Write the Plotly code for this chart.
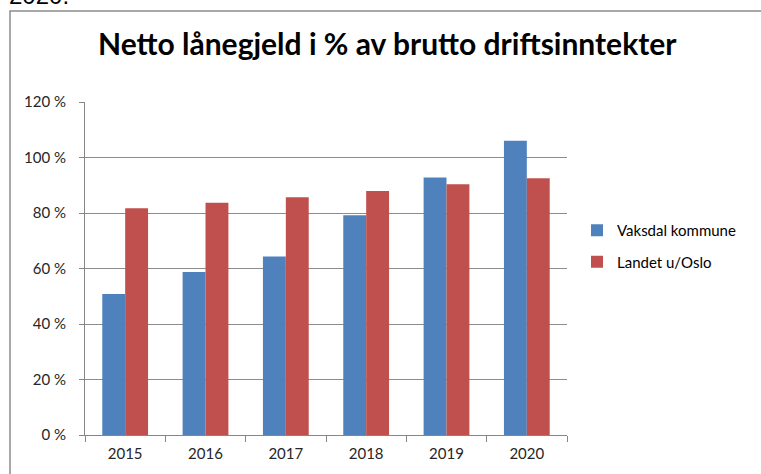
import plotly.graph_objects as go

years = ["2015", "2016", "2017", "2018", "2019", "2020"]
vaksdal = [50.8, 58.7, 64.3, 79.2, 92.8, 106.0]
landet = [81.7, 83.7, 85.7, 87.9, 90.4, 92.5]
y_ticks = [0, 20, 40, 60, 80, 100, 120]
y_tick_labels = [f"{v} %" for v in y_ticks]

FONT = "Lato, 'Open Sans', sans-serif"

fig = go.Figure()
fig.add_trace(go.Bar(x=years, y=vaksdal, name="Vaksdal kommune",
                     marker=dict(color="#4f81bd", line=dict(width=0)), legendgroup="a"))
fig.add_trace(go.Bar(x=years, y=landet, name="Landet u/Oslo",
                     marker=dict(color="#c0504d", line=dict(width=0)), legendgroup="b"))

L, R, T, B = 85, 194, 102, 39
W, H = 761, 474
pw = W - L - R
ph = H - T - B

def px2x(px):
    return (px - L) / pw

def py2y(py):
    return (H - B - py) / ph

fig.update_layout(
    width=W, height=H,
    margin=dict(l=L, r=R, t=T, b=B, pad=0),
    paper_bgcolor="white", plot_bgcolor="white",
    barmode="group", bargap=0.43, bargroupgap=0,
    font=dict(family=FONT, size=14, color="#262626"),
    showlegend=True,
    legend=dict(x=px2x(577), y=py2y(246), xanchor="left", yanchor="middle",
                font=dict(family=FONT, size=15, color="#000000"),
                traceorder="grouped", tracegroupgap=9,
                bgcolor="rgba(0,0,0,0)"),
    xaxis=dict(type="category", showgrid=False, showline=True, linecolor="#868686",
               linewidth=1, ticks="outside", tickson="boundaries", ticklen=6,
               tickcolor="#868686", ticklabelstandoff=5,
               tickfont=dict(family=FONT, size=15, color="#262626")),
    yaxis=dict(range=[0, 120], tickvals=y_ticks, ticktext=y_tick_labels,
               showgrid=True, gridcolor="#8c8c8c", gridwidth=1,
               showline=True, linecolor="#868686", linewidth=1,
               ticks="outside", ticklen=5, tickcolor="#868686",
               ticklabelstandoff=10,
               tickfont=dict(family=FONT, size=15, color="#262626"), zeroline=False),
    shapes=[dict(type="rect", xref="paper", yref="paper",
                 x0=px2x(10), x1=px2x(800), y0=py2y(500), y1=py2y(11),
                 line=dict(color="#8c8c8c", width=1.5), fillcolor="rgba(0,0,0,0)",
                 layer="below")],
    annotations=[
        dict(text="<b>Netto lånegjeld i % av brutto driftsinntekter</b>",
             xref="paper", yref="paper", x=px2x(387), y=py2y(43),
             xanchor="center", yanchor="middle", showarrow=False,
             font=dict(family=FONT, size=30, color="#000000")),
        dict(text="2020.", xref="paper", yref="paper", x=px2x(7), y=py2y(11),
             xanchor="left", yanchor="bottom", showarrow=False,
             font=dict(family="Liberation Sans, Arial, sans-serif", size=24, color="#000000")),
    ],
)

fig.write_html("out.html", config={"displayModeBar": False},
               post_script="document.body.style.margin='0';document.body.style.padding='0';")
